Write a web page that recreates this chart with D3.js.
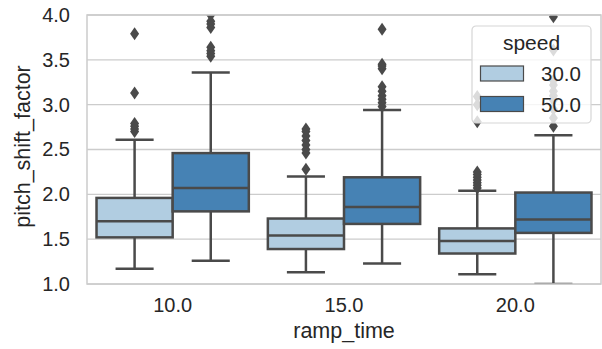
<!DOCTYPE html>
<html>
<head>
<meta charset="utf-8">
<script src="https://cdn.jsdelivr.net/npm/d3@7"></script>
<style>
  body { margin: 0; background: #fff; }
  text { font-family: "Liberation Sans", Arial, sans-serif; fill: #262626; }
</style>
</head>
<body>
<div id="chart"></div>
<script>
// categories
const rampTimes = ["10.0", "15.0", "20.0"];
const speeds = ["30.0", "50.0"];
const yTicks = [1.0, 1.5, 2.0, 2.5, 3.0, 3.5, 4.0];

// speed 30.0 box stats (one per ramp_time)
const lo30 = [1.17, 1.13, 1.11];
const q1_30 = [1.52, 1.39, 1.34];
const med30 = [1.70, 1.54, 1.48];
const q3_30 = [1.96, 1.73, 1.62];
const hi30 = [2.61, 2.20, 2.04];
const out30 = [
  [2.70, 2.73, 2.76, 2.79, 3.13, 3.79],
  [2.28, 2.46, 2.50, 2.55, 2.60, 2.65, 2.70, 2.73],
  [2.07, 2.10, 2.13, 2.16, 2.19, 2.22, 2.25, 2.81, 3.00, 3.09]
];

// speed 50.0 box stats
const lo50 = [1.26, 1.23, 1.00];
const q1_50 = [1.81, 1.67, 1.57];
const med50 = [2.07, 1.86, 1.72];
const q3_50 = [2.46, 2.19, 2.02];
const hi50 = [3.36, 2.94, 2.66];
const out50 = [
  [3.54, 3.57, 3.60, 3.64, 3.86, 3.90, 3.93, 4.00],
  [2.98, 3.02, 3.06, 3.10, 3.15, 3.20, 3.40, 3.43, 3.45, 3.84],
  [2.76, 2.85, 2.95, 3.05, 3.10, 3.15, 3.22, 3.27, 3.61, 3.98]
];

const colors = ["#b1cde1", "#4682b4"];
const lineColor = "#4a4a4a";

var width = 602, height = 349;
var margin = {top: 15, right: 1, bottom: 65, left: 87};

var svg = d3.select("#chart").append("svg")
  .attr("width", width).attr("height", height);

var x = d3.scaleBand()
  .domain(rampTimes)
  .range([margin.left, width - margin.right])
  .padding(0);

var y = d3.scaleLinear()
  .domain([1, 4])
  .range([height - margin.bottom, margin.top]);

var hueX = d3.scaleBand()
  .domain(speeds)
  .range([0, x.bandwidth()])
  .paddingOuter(0.125)
  .paddingInner(0);

svg.append("clipPath").attr("id", "clip")
  .append("rect")
  .attr("x", margin.left).attr("y", margin.top)
  .attr("width", width - margin.right - margin.left)
  .attr("height", height - margin.bottom - margin.top);

// grid
svg.append("g")
  .selectAll("line")
  .data(yTicks)
  .enter().append("line")
    .attr("x1", margin.left).attr("x2", width - margin.right)
    .attr("y1", d => y(d)).attr("y2", d => y(d))
    .attr("stroke", "#cccccc").attr("stroke-width", 1.3);

// build boxes
var boxes = [];
rampTimes.forEach(function(r, i) {
  boxes.push({ramp: r, speed: speeds[0], lo: lo30[i], q1: q1_30[i], med: med30[i], q3: q3_30[i], hi: hi30[i], out: out30[i], color: colors[0]});
  boxes.push({ramp: r, speed: speeds[1], lo: lo50[i], q1: q1_50[i], med: med50[i], q3: q3_50[i], hi: hi50[i], out: out50[i], color: colors[1]});
});

var plot = svg.append("g").attr("clip-path", "url(#clip)");

var g = plot.selectAll(".box")
  .data(boxes)
  .enter().append("g")
    .attr("class", "box")
    .attr("transform", d => "translate(" + (x(d.ramp) + hueX(d.speed)) + ",0)");

var bw = hueX.bandwidth();

// whiskers
g.append("line")
  .attr("x1", bw / 2).attr("x2", bw / 2)
  .attr("y1", d => y(d.hi)).attr("y2", d => y(d.q3))
  .attr("stroke", lineColor).attr("stroke-width", 2.5);
g.append("line")
  .attr("x1", bw / 2).attr("x2", bw / 2)
  .attr("y1", d => y(d.q1)).attr("y2", d => y(d.lo))
  .attr("stroke", lineColor).attr("stroke-width", 2.5);
// caps
g.append("line")
  .attr("x1", bw / 4).attr("x2", bw * 3 / 4)
  .attr("y1", d => y(d.hi)).attr("y2", d => y(d.hi))
  .attr("stroke", lineColor).attr("stroke-width", 2.5);
g.append("line")
  .attr("x1", bw / 4).attr("x2", bw * 3 / 4)
  .attr("y1", d => y(d.lo)).attr("y2", d => y(d.lo))
  .attr("stroke", lineColor).attr("stroke-width", 2.5);

// box
g.append("rect")
  .attr("x", 0).attr("width", bw)
  .attr("y", d => y(d.q3))
  .attr("height", d => y(d.q1) - y(d.q3))
  .attr("fill", d => d.color)
  .attr("stroke", lineColor).attr("stroke-width", 2.5);

// median
g.append("line")
  .attr("x1", 0).attr("x2", bw)
  .attr("y1", d => y(d.med)).attr("y2", d => y(d.med))
  .attr("stroke", lineColor).attr("stroke-width", 2.5);

// outliers (thin diamonds)
g.selectAll(".flier")
  .data(d => d.out)
  .enter().append("path")
    .attr("d", v => "M" + (bw / 2) + "," + (y(v) - 6.5) + "L" + (bw / 2 + 4.5) + "," + y(v) +
                    "L" + (bw / 2) + "," + (y(v) + 6.5) + "L" + (bw / 2 - 4.5) + "," + y(v) + "Z")
    .attr("fill", lineColor);

// frame
svg.append("rect")
  .attr("x", margin.left).attr("y", margin.top)
  .attr("width", width - margin.right - margin.left)
  .attr("height", height - margin.bottom - margin.top)
  .attr("fill", "none").attr("stroke", "#cccccc").attr("stroke-width", 1.5);

// axes
var xAxis = svg.append("g")
  .attr("transform", "translate(0," + (height - margin.bottom) + ")")
  .call(d3.axisBottom(x).tickSize(0).tickPadding(14));
xAxis.select(".domain").remove();
xAxis.selectAll("text").style("font-size", "20px").attr("fill", "#262626");

var yAxis = svg.append("g")
  .attr("transform", "translate(" + margin.left + ",0)")
  .call(d3.axisLeft(y).tickValues(yTicks).tickFormat(d3.format(".1f")).tickSize(0).tickPadding(17));
yAxis.select(".domain").remove();
yAxis.selectAll("text").style("font-size", "20px").attr("fill", "#262626");

svg.append("text")
  .attr("x", (margin.left + width - margin.right) / 2)
  .attr("y", 338)
  .attr("text-anchor", "middle")
  .style("font-size", "21.5px")
  .text("ramp_time");

svg.append("text")
  .attr("transform", "translate(30," + ((margin.top + height - margin.bottom) / 2 - 3) + ")rotate(-90)")
  .attr("text-anchor", "middle")
  .style("font-size", "21.5px")
  .text("pitch_shift_factor");

// legend
var leg = svg.append("g").attr("transform", "translate(472,26)");
leg.append("rect")
  .attr("width", 119).attr("height", 97).attr("rx", 4)
  .attr("fill", "#ffffff").attr("fill-opacity", 0.8)
  .attr("stroke", "#d6d6d6").attr("stroke-width", 1.2);
leg.append("text")
  .attr("x", 59.5).attr("y", 24)
  .attr("text-anchor", "middle")
  .style("font-size", "21px")
  .text("speed");
var items = leg.selectAll(".item")
  .data(speeds)
  .enter().append("g")
    .attr("transform", (d, i) => "translate(0," + (40 + i * 30.5) + ")");
items.append("rect")
  .attr("x", 8.5).attr("width", 43).attr("height", 15)
  .attr("fill", (d, i) => colors[i])
  .attr("stroke", lineColor).attr("stroke-width", 1.2);
items.append("text")
  .attr("x", 69).attr("y", 15)
  .style("font-size", "20.5px")
  .text(d => d);
</script>
</body>
</html>
